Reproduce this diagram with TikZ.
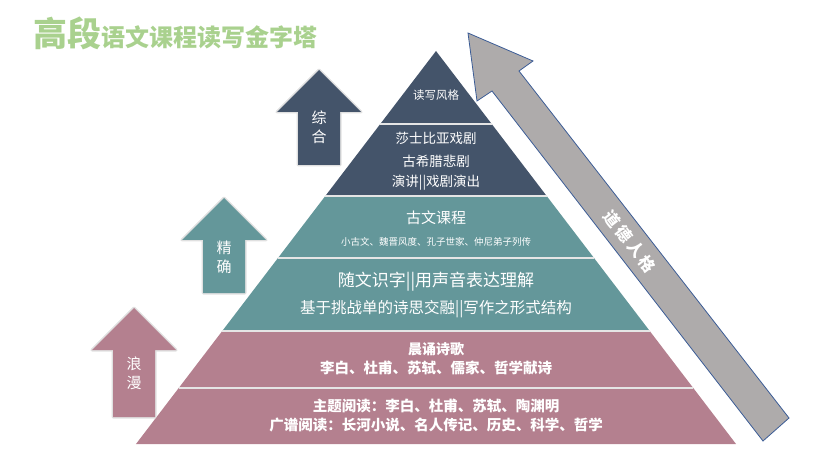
\documentclass[tikz,border=0pt]{standalone}
\usepackage{fontspec}
\newfontfamily\cjk{Noto Sans CJK SC}
\usetikzlibrary{shapes,arrows}
\definecolor{darkband}{HTML}{44546A}
\definecolor{tealband}{HTML}{64979A}
\definecolor{pinkband}{HTML}{B4808F}
\definecolor{arrowgray}{HTML}{AEABAB}
\definecolor{arrowblue}{HTML}{3B5C96}
\definecolor{titlegreen}{HTML}{A9D18E}

\begin{document}
\begin{tikzpicture}[x=1pt,y=-1pt,
  lbl/.style={font=\cjk\fontsize{#1}{#1}\selectfont, text=white, inner sep=0pt},
  blbl/.style={font=\cjk\bfseries\fontsize{#1}{#1}\selectfont, text=white, inner sep=0pt},
  arrowlbl/.style={font=\cjk\fontsize{15}{19}\selectfont, text=white, align=center, inner sep=0pt},
  uparrow/.style={fill=#1, preaction={draw=black!12, line width=3pt, line join=round}}]
\useasboundingbox (0,0) rectangle (831,468);
% Draw the title
\node[anchor=base west, text=titlegreen, font=\cjk\bfseries\fontsize{34}{34}\selectfont, inner sep=0pt] (title) at (33,47) {高段{\fontsize{24}{24}\selectfont 语文课程读写金字塔}};
% Draw the pyramid layers
\foreach \ya/\yb/\col in {51/124/darkband, 124/196/darkband, 196/258/tealband, 258/331/tealband, 331/388/pinkband, 388/444/pinkband}
  \fill[\col] ({436-(\ya-51)*0.7634},\ya) -- ({436+(\ya-51)*0.7634},\ya) -- ({436+(\yb-51)*0.7634},\yb) -- ({436-(\yb-51)*0.7634},\yb) -- cycle;
% Draw the white lines between the layers
\foreach \yb in {124,196,258,331,388}
  \draw[white!90!black, line width=2pt] ({436-(\yb-51)*0.7634},\yb) -- ({436+(\yb-51)*0.7634},\yb);
% Draw the three arrows on the left
\foreach \cx/\ty/\by/\col in {319/70/165/darkband, 224/198/293/tealband, 134/308/417/pinkband}
  \fill[uparrow=\col] (\cx,\ty) -- (\cx+42,\ty+42) -- (\cx+21,\ty+42) -- (\cx+21,\by) -- (\cx-21,\by) -- (\cx-21,\ty+42) -- (\cx-42,\ty+42) -- cycle;
\node[arrowlbl] (zonghe) at (319,127.5) {综\\合};
\node[arrowlbl] (jingque) at (224,257) {精\\确};
\node[arrowlbl] (langman) at (134,373.5) {浪\\漫};
% Draw the big arrow on the right
\filldraw[fill=arrowgray, draw=arrowblue, line width=0.8pt] (468,33) -- (533,61) -- (519,71) -- (789,418) -- (763,441) -- (492,91) -- (477,101) -- cycle;
\node[blbl=16, rotate=-52] (daode) at (630,242) {道\kern3pt 德\kern3pt 人\kern3pt 格};
% Texts in the layers
\node[lbl=11.5] (top) at (436,95) {读写风格};
\node[lbl=13.5] (drama1) at (436,138) {莎士比亚戏剧};
\node[lbl=13.5] (drama2) at (436,161) {古希腊悲剧};
\node[lbl=13.5] (drama3) at (436,183) {演讲||戏剧演出};
\node[lbl=15] (guwen1) at (436,218) {古文课程};
\node[lbl=9.5] (guwen2) at (436,242) {小古文、魏晋风度、孔子世家、仲尼弟子列传};
\node[lbl=17] (shizi1) at (436,282) {随文识字||用声音表达理解};
\node[lbl=15.5] (shizi2) at (436,309) {基于挑战单的诗思交融||写作之形式结构};
\node[blbl=14] (chensong1) at (436,349) {晨诵诗歌};
\node[blbl=14.5] (chensong2) at (436,368) {李白、杜甫、苏轼、儒家、哲学献诗};
\node[blbl=14.5] (yuedu1) at (436,406) {主题阅读：李白、杜甫、苏轼、陶渊明};
\node[blbl=14.5] (yuedu2) at (436,425) {广谱阅读：长河小说、名人传记、历史、科学、哲学};
\end{tikzpicture}
\end{document}
